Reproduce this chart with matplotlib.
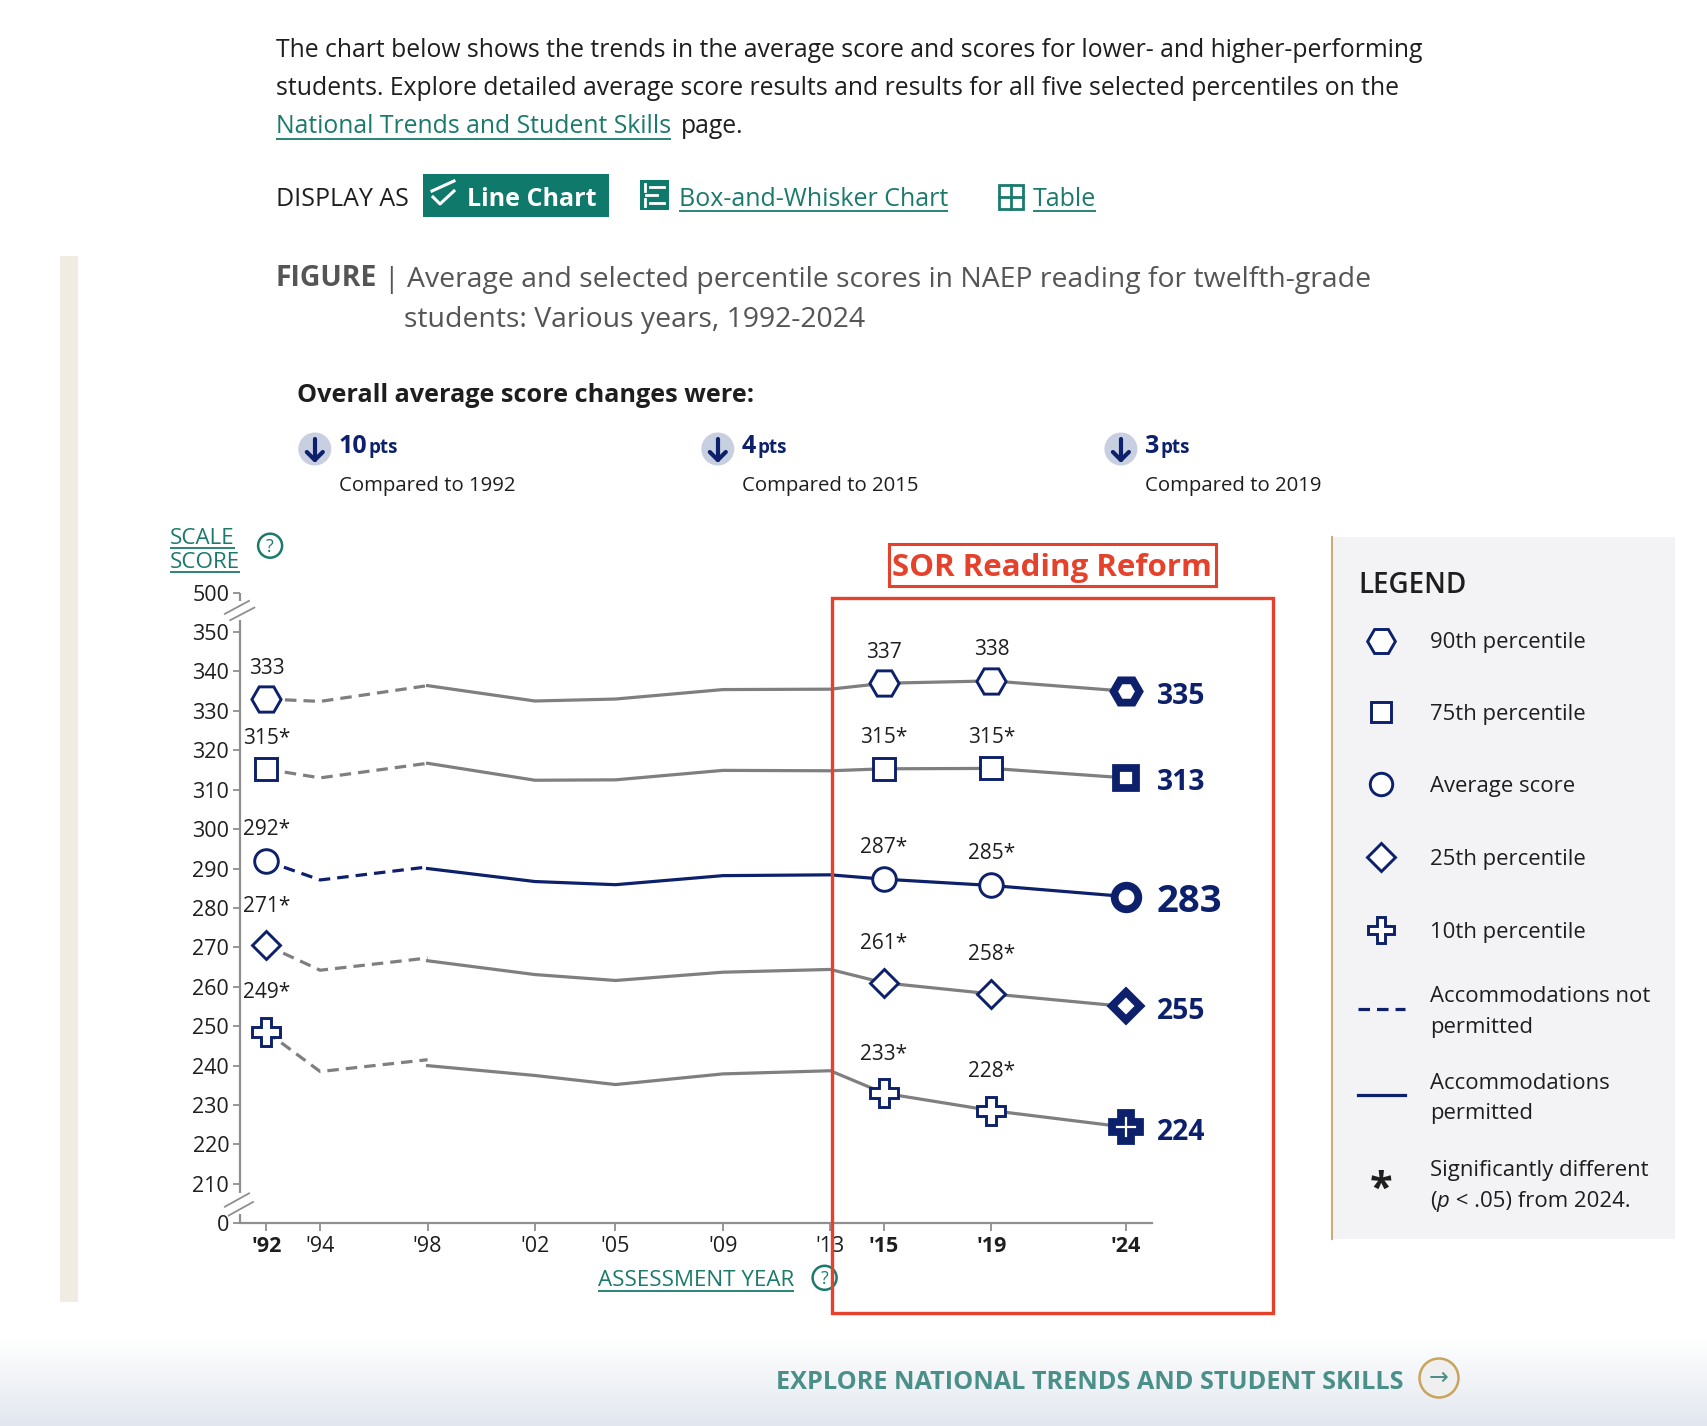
import matplotlib
matplotlib.use("Agg")
import matplotlib.pyplot as plt
import numpy as np
from matplotlib.patches import Rectangle, Circle

plt.rcParams["font.family"] = ["Open Sans", "DejaVu Sans"]

W, H, DPI = 1708, 1426, 100

NAVY = "#0c206b"
GREY = "#7f7f7f"
AXIS_GREY = "#8f8f8f"
TEAL = "#1b7a6c"
RED = "#e5412b"
INK = "#1e1e1e"

# ---- values ----
YEARS_NOT_PERMITTED = [1992, 1994, 1998]
YEARS_PERMITTED = [1998, 2002, 2005, 2009, 2013, 2015, 2019, 2024]

P90_NP = [333.0, 332.4, 336.4]
P90_P = [336.4, 332.5, 333.0, 335.4, 335.5, 337.0, 337.6, 335.0]
P75_NP = [315.2, 313.0, 316.7]
P75_P = [316.7, 312.4, 312.5, 314.9, 314.8, 315.3, 315.4, 313.0]
AVG_NP = [291.9, 287.1, 290.4]
AVG_P = [290.0, 286.7, 285.9, 288.2, 288.4, 287.3, 285.7, 282.9]
P25_NP = [270.5, 264.2, 267.3]
P25_P = [266.6, 263.1, 261.6, 263.7, 264.4, 261.0, 258.2, 255.0]
P10_NP = [248.6, 238.5, 241.5]
P10_P = [240.0, 237.5, 235.2, 237.9, 238.7, 233.0, 228.6, 224.4]

SERIES_NAMES = ["90th percentile", "75th percentile", "Average score",
                "25th percentile", "10th percentile"]
LABEL_1992 = ["333", "315*", "292*", "271*", "249*"]
LABEL_2015 = ["337", "315*", "287*", "261*", "233*"]
LABEL_2019 = ["338", "315*", "285*", "258*", "228*"]
LABEL_2024 = ["335", "313", "283", "255", "224"]

TICK_YEARS = [1992, 1994, 1998, 2002, 2005, 2009, 2013, 2015, 2019, 2024]
TICK_LABELS = ["'92", "'94", "'98", "'02", "'05", "'09", "'13", "'15", "'19", "'24"]
BOLD_YEARS = [1992, 2015, 2019, 2024]
SCORE_TICKS = [0, 210, 220, 230, 240, 250, 260, 270, 280, 290, 300,
               310, 320, 330, 340, 350, 500]

CHANGE_POINTS = ["10", "4", "3"]
CHANGE_BASE = ["Compared to 1992", "Compared to 2015", "Compared to 2019"]


def score_pos(v):
    # broken axis: 0 sits one step under 210, 500 one step over 350
    if v == 0:
        return 200
    if v == 500:
        return 360
    return v


fig = plt.figure(figsize=(W / DPI, H / DPI), dpi=DPI)
fig.patch.set_facecolor("white")

# overlay in pixel coordinates for the page furniture
ov = fig.add_axes([0, 0, 1, 1], zorder=10)
ov.set_xlim(0, W)
ov.set_ylim(H, 0)
ov.axis("off")
ov.patch.set_alpha(0)

renderer = fig.canvas.get_renderer()


def put(x, y, s, size, color=INK, weight="normal", ha="left", va="baseline", **kw):
    return ov.text(x, y, s, fontsize=size, color=color, fontweight=weight,
                   ha=ha, va=va, **kw)


def right_of(t, gap=0.0):
    bb = t.get_window_extent(renderer)
    x, _ = ov.transData.inverted().transform((bb.x1, bb.y0))
    return x + gap


def underline(t, y, color=TEAL, lw=1.3):
    bb = t.get_window_extent(renderer)
    x0, _ = ov.transData.inverted().transform((bb.x0, bb.y0))
    x1, _ = ov.transData.inverted().transform((bb.x1, bb.y0))
    ov.plot([x0, x1], [y, y], color=color, lw=lw, solid_capstyle="butt")


def help_icon(x, y, r=12):
    ov.add_patch(Circle((x, y), r, facecolor="white", edgecolor=TEAL, lw=1.8))
    ov.text(x, y + 1, "?", fontsize=13, color=TEAL, ha="center", va="center")


# background pieces
ov.add_patch(Rectangle((60, 256), 18, 1046, facecolor="#f1ece2", edgecolor="none", zorder=0))
grad = np.linspace(0, 1, 100)[:, None]
ov.imshow(grad, extent=(0, W, H, 1338), cmap=matplotlib.colors.LinearSegmentedColormap.from_list(
    "g", ["#ffffff", "#e2e7ef"]), aspect="auto", zorder=0)
ov.set_xlim(0, W)
ov.set_ylim(H, 0)

# intro paragraph
BODY = 17.8
put(275.6, 56.6, "The chart below shows the trends in the average score and scores for lower- and higher-performing", BODY)
put(275.6, 94.8, "students. Explore detailed average score results and results for all five selected percentiles on the", BODY)
t = put(275.6, 132.9, "National Trends and Student Skills", BODY, color=TEAL)
underline(t, 138.5)
put(right_of(t, 10), 132.9, "page.", BODY)

# display-as row
put(275.6, 206, "DISPLAY AS", 18)
ov.add_patch(Rectangle((422.6, 174), 186.4, 43, facecolor="#0f7a6b", edgecolor="none"))
ov.plot([432, 454], [191, 181], color="white", lw=2.2)
ov.plot([433, 440, 454], [197, 204, 191], color="white", lw=2.2)
put(467, 206, "Line Chart", 18, color="white", weight="bold")
ov.add_patch(Rectangle((640.5, 180), 29, 30, facecolor="#0f7a6b", edgecolor="none"))
for yy, x0, x1 in [(187, 650, 664), (195, 646, 657), (203, 650, 664)]:
    ov.plot([x0, x1], [yy, yy], color="white", lw=2)
ov.plot([645, 645], [184, 191], color="white", lw=2)
ov.plot([645, 645], [199, 206], color="white", lw=2)
t = put(678.6, 206, "Box-and-Whisker Chart", 18, color=TEAL)
underline(t, 211)
ov.add_patch(Rectangle((999.5, 184.5), 24, 24, facecolor="none", edgecolor=TEAL, lw=2))
ov.plot([1011.5, 1011.5], [184.5, 208.5], color=TEAL, lw=2)
ov.plot([999.5, 1023.5], [196.5, 196.5], color=TEAL, lw=2)
t = put(1032.6, 206, "Table", 18, color=TEAL)
underline(t, 211)

# figure title
TITLE = 20.4
t = put(275.6, 286.5, "FIGURE", TITLE, color="#555555", weight="bold")
t = put(right_of(t, 6), 286.5, "|", TITLE, color="#555555")
put(right_of(t, 8), 286.5, "Average and selected percentile scores in NAEP reading for twelfth-grade", TITLE, color="#555555")
put(404, 326.8, "students: Various years, 1992-2024", TITLE, color="#555555")

# score change summary
put(297.4, 402, "Overall average score changes were:", 18.2, weight="bold")
for icon_x, pts, base in zip([314.8, 717.8, 1120.9], CHANGE_POINTS, CHANGE_BASE):
    ov.add_patch(Circle((icon_x, 449), 16.5, facecolor="#c7cfe1", edgecolor="none"))
    ov.plot([icon_x, icon_x], [439, 460], color=NAVY, lw=3, solid_capstyle="round")
    ov.plot([icon_x - 8, icon_x, icon_x + 8], [452, 460, 452], color=NAVY, lw=3,
            solid_capstyle="round", solid_joinstyle="round")
    t = put(icon_x + 24, 453, pts, 18, color=NAVY, weight="bold")
    put(right_of(t, 1), 453, "pts", 13.5, color=NAVY, weight="bold")
    put(icon_x + 24, 491, base, 14.7)

# axis captions
t = put(170, 543.6, "SCALE", 16.1, color=TEAL)
underline(t, 548)
t = put(170, 567.5, "SCORE", 16.1, color=TEAL)
underline(t, 572)
help_icon(270.1, 545.7)
t = put(598, 1286.5, "ASSESSMENT YEAR", 16.1, color=TEAL)
underline(t, 1291)
help_icon(824.6, 1277.8)

# ---- chart ----
ax = fig.add_axes([239.6 / W, 1 - 1223.3 / H, (1152.5 - 239.6) / W, (1223.3 - 592.6) / H], zorder=5)
ax.patch.set_alpha(0)
ax.set_xlim(1991, 2025)
ax.set_ylim(200, 360)
for s in ["top", "right", "left"]:
    ax.spines[s].set_visible(False)
ax.spines["bottom"].set_color(AXIS_GREY)
ax.spines["bottom"].set_linewidth(1.6)

ytr = ax.get_yaxis_transform()
for y0, y1 in [(357.9, 360), (207.6, 353.0), (200, 202.3)]:
    ax.plot([0, 0], [y0, y1], color=AXIS_GREY, lw=1.6, transform=ytr, clip_on=False,
            solid_capstyle="butt")
for (x0, y0), (x1, y1) in [((1990.45, 354.6), (1991.35, 357.9)), ((1990.65, 353.0), (1991.55, 356.2)),
                           ((1990.45, 204.2), (1991.35, 207.6)), ((1990.6, 202.0), (1991.5, 205.4))]:
    ax.plot([x0, x1], [y0, y1], color=AXIS_GREY, lw=1.3, clip_on=False)

ax.set_yticks([score_pos(v) for v in SCORE_TICKS], [str(v) for v in SCORE_TICKS])
ax.set_xticks(TICK_YEARS, TICK_LABELS)
ax.tick_params(axis="y", labelsize=15.5, labelcolor=INK, color=AXIS_GREY, length=5, width=1.3, pad=2.5)
ax.tick_params(axis="x", labelsize=15.5, labelcolor=INK, color=AXIS_GREY, length=6, width=1.3, pad=3.5)
for yr, lbl in zip(TICK_YEARS, ax.get_xticklabels()):
    if yr in BOLD_YEARS:
        lbl.set_fontweight("bold")

series_np = [P90_NP, P75_NP, AVG_NP, P25_NP, P10_NP]
series_p = [P90_P, P75_P, AVG_P, P25_P, P10_P]
markers = ["H", "s", "o", "D", "P"]
open_size = [21, 15.5, 17, 14.5, 20]
last_size = [18.5, 13.8, 17, 13.8, 20]
label_dy = [31, 31, 32, 39, 39]
last_font = [20.3, 20.3, 27.5, 20.3, 20.3]

for i in range(5):
    color = NAVY if i == 2 else GREY
    ax.plot(YEARS_NOT_PERMITTED, series_np[i], color=color, lw=2.3,
            ls=(0, (3.6, 2.2)), zorder=2)
    ax.plot(YEARS_PERMITTED, series_p[i], color=color, lw=2.3, zorder=2)
    vals = dict(zip(YEARS_PERMITTED, series_p[i]))
    vals[1992] = series_np[i][0]
    for yr, lbl in zip([1992, 2015, 2019], [LABEL_1992[i], LABEL_2015[i], LABEL_2019[i]]):
        ax.plot(yr, vals[yr], marker=markers[i], ms=open_size[i], mfc="white",
                mec=NAVY, mew=2.1, zorder=4, clip_on=False)
        ax.annotate(lbl, (yr, vals[yr]), xytext=(0, label_dy[i]), textcoords="offset pixels",
                    ha="center", va="center", fontsize=15, color=INK)
    ax.plot(2024, vals[2024], marker=markers[i], ms=last_size[i], mfc="white",
            mec=NAVY, mew=5.6, zorder=4, clip_on=False)
    ax.annotate(LABEL_2024[i], (2024, vals[2024]), xytext=(31, -5), textcoords="offset pixels",
                ha="left", va="center", fontsize=last_font[i], color=NAVY, fontweight="bold")

# reform highlight
ov.add_patch(Rectangle((832.2, 598), 441.2, 714.6, facecolor="none", edgecolor=RED, lw=2.4))
ov.add_patch(Rectangle((888.9, 543.6), 326.8, 42.4, facecolor="none", edgecolor=RED, lw=2.2))
put(1052.3, 576, "SOR Reading Reform", 22.5, color=RED, weight="bold", ha="center")

# ---- legend panel ----
LEG = 15.9
ov.add_patch(Rectangle((1331, 537), 344.4, 701.5, facecolor="#f3f3f5", edgecolor="none", zorder=0))
ov.plot([1332, 1332], [537, 1238.5], color="#c9ad7a", lw=1.5)
put(1358.3, 592.6, "LEGEND", 20, weight="semibold")
for name, m, ms, y in zip(SERIES_NAMES, markers, open_size, [642.5, 714.4, 786.3, 859.3, 932.3]):
    ov.plot(1381.5, y - 2, marker=m, ms=ms * 0.95, mfc="white", mec=NAVY, mew=2.1)
    put(1430.3, y, name, LEG, va="center")
ov.plot([1358, 1405], [1008.7, 1008.7], color=NAVY, lw=2.3, ls=(0, (3.6, 2.2)))
put(1430.3, 1002, "Accommodations not", LEG)
put(1430.3, 1032.6, "permitted", LEG)
ov.plot([1358, 1405], [1094.7, 1094.7], color=NAVY, lw=2.3)
put(1430.3, 1089, "Accommodations", LEG)
put(1430.3, 1119.5, "permitted", LEG)
put(1381.5, 1201, "*", 30, ha="center", weight="bold")
put(1430.3, 1176.4, "Significantly different", LEG)
t = put(1430.3, 1207, "(", LEG)
t = put(right_of(t, 0), 1207, "p", LEG, style="italic")
put(right_of(t, 0), 1207, " < .05) from 2024.", LEG)

# bottom call to action
put(775.6, 1389, "EXPLORE NATIONAL TRENDS AND STUDENT SKILLS", 18.2, color="#4a8f88", weight="bold")
ov.add_patch(Circle((1439, 1378), 19.5, facecolor="#efefef", edgecolor="#c9a45c", lw=1.8))
ov.text(1439, 1378, "\u2192", fontsize=17, color="#4a8f88", ha="center", va="center",
        family=["DejaVu Sans"])

fig.savefig("out.png", dpi=DPI)
